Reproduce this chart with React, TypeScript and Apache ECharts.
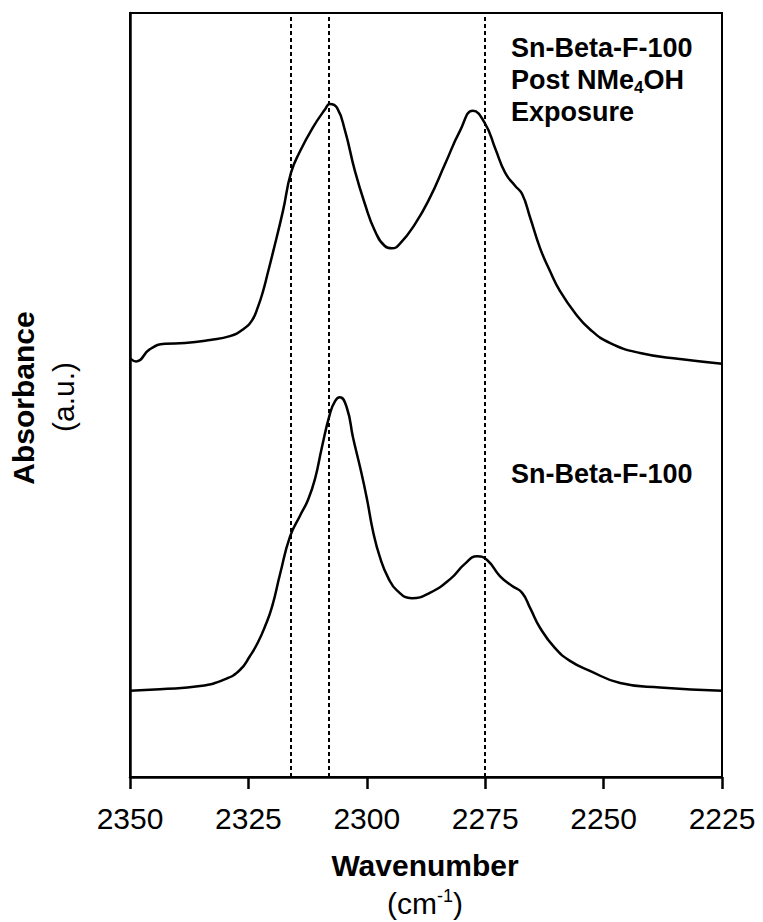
import React, { useEffect, useRef } from "react";
import * as echarts from "echarts";

// Sn-Beta-F-100 Post NMe4OH Exposure (upper trace)
const topWn = [2350.0, 2348.7, 2345.8, 2342.6, 2338.4, 2333.1, 2328.9, 2326.1, 2324.2, 2323.0, 2321.9, 2320.9, 2319.8, 2317.7, 2316.0, 2314.1, 2311.4, 2308.8, 2307.8, 2306.3, 2304.6, 2302.5, 2300.4, 2298.3, 2296.2, 2294.7, 2293.0, 2289.8, 2286.7, 2283.5, 2280.3, 2277.6, 2275.0, 2272.9, 2270.8, 2268.7, 2267.2, 2265.5, 2263.4, 2261.3, 2259.2, 2256.0, 2252.9, 2248.6, 2242.3, 2233.9, 2225.0];
const topAbs = [54.8, 54.4, 56.0, 56.7, 56.8, 57.2, 57.7, 58.6, 59.8, 61.5, 63.6, 66.0, 68.7, 74.1, 79.1, 81.9, 85.0, 87.4, 88.1, 87.6, 84.6, 79.3, 75.0, 71.5, 69.5, 69.2, 69.8, 72.4, 75.8, 80.2, 84.6, 87.2, 85.5, 82.3, 79.1, 77.4, 76.3, 73.2, 69.2, 66.2, 63.6, 60.7, 58.6, 56.8, 55.5, 54.7, 54.1];

// Sn-Beta-F-100 (lower trace)
const bottomWn = [2350.0, 2343.7, 2335.2, 2329.9, 2326.8, 2324.7, 2323.0, 2321.5, 2320.0, 2318.3, 2316.2, 2314.1, 2312.4, 2310.9, 2309.5, 2307.8, 2306.7, 2305.7, 2304.2, 2302.9, 2301.4, 2300.0, 2298.7, 2297.2, 2295.5, 2293.6, 2290.5, 2286.7, 2282.4, 2279.3, 2276.7, 2274.6, 2271.9, 2269.3, 2267.2, 2265.5, 2263.4, 2260.3, 2257.1, 2252.9, 2246.5, 2238.1, 2225.0];
const bottomAbs = [11.3, 11.5, 11.9, 12.8, 14.0, 15.8, 17.6, 19.7, 22.3, 26.6, 31.5, 34.2, 36.3, 39.1, 43.1, 47.5, 49.2, 49.7, 48.3, 44.4, 40.5, 36.5, 32.2, 28.7, 26.1, 24.4, 23.4, 24.1, 25.9, 27.9, 28.9, 28.4, 26.3, 25.0, 24.1, 22.1, 19.5, 16.9, 15.2, 13.9, 12.3, 11.7, 11.3];

// Reference (dashed) wavenumbers
const markerWn = [2316, 2308, 2275];

// Axis range / ticks
const xMin = 2225;
const xMax = 2350;
const xStep = 25;

const FONT = 'Arial, "Liberation Sans", Helvetica, sans-serif';

export default function App() {
  const ref = useRef<HTMLDivElement>(null);

  useEffect(() => {
    if (!ref.current) return;
    const chart = echarts.init(ref.current, undefined, { renderer: "svg" });

    const zip = (xs: number[], ys: number[]) => xs.map((x, i) => [x, ys[i]]);

    chart.setOption({
      animation: false,
      backgroundColor: "#fff",
      grid: {
        left: 130,
        right: 41,
        top: 13,
        bottom: 145,
        show: true,
        borderColor: "#000",
        borderWidth: 2,
        backgroundColor: "transparent",
      },
      xAxis: {
        type: "value",
        inverse: true,
        min: xMin,
        max: xMax,
        interval: xStep,
        axisLine: { show: true, lineStyle: { color: "#000", width: 2.5 } },
        axisTick: { show: true, inside: false, length: 12, lineStyle: { color: "#000", width: 2.5 } },
        axisLabel: {
          show: true,
          color: "#000",
          fontSize: 30,
          fontFamily: FONT,
          margin: 26,
          showMinLabel: true,
          showMaxLabel: true,
          formatter: (v: number) => String(v),
        },
        splitLine: { show: false },
      },
      yAxis: {
        type: "value",
        min: 0,
        max: 100,
        axisLine: { show: true, onZero: false, lineStyle: { color: "#000", width: 2.5 } },
        axisTick: { show: false },
        axisLabel: { show: false },
        splitLine: { show: false },
      },
      series: [
        {
          type: "line",
          name: "Sn-Beta-F-100 Post NMe4OH Exposure",
          data: zip(topWn, topAbs),
          smooth: 0.5,
          showSymbol: false,
          lineStyle: { color: "#000", width: 2.5 },
          markLine: {
            silent: true,
            symbol: ["none", "none"],
            label: { show: false },
            lineStyle: { color: "#000", width: 2, type: [4, 3] },
            data: markerWn.map((v) => ({ xAxis: v })),
          },
        },
        {
          type: "line",
          name: "Sn-Beta-F-100",
          data: zip(bottomWn, bottomAbs),
          smooth: 0.5,
          showSymbol: false,
          lineStyle: { color: "#000", width: 2.5 },
        },
      ],
      graphic: [
        {
          type: "text",
          x: 425,
          y: 865,
          style: {
            text: "Wavenumber",
            fontSize: 30,
            fontWeight: "bold",
            fontFamily: FONT,
            fill: "#000",
            align: "center",
            verticalAlign: "middle",
          },
        },
        {
          type: "text",
          x: 425,
          y: 903,
          style: {
            text: "{a|(cm}{s|-1}{a|)}",
            fill: "#000",
            align: "center",
            verticalAlign: "middle",
            rich: {
              a: { fontSize: 30, fontFamily: FONT, fill: "#000", lineHeight: 32 },
              s: { fontSize: 18, fontFamily: FONT, fill: "#000", lineHeight: 18, verticalAlign: "top" },
            },
          },
        },
        {
          type: "text",
          x: 23,
          y: 398,
          rotation: Math.PI / 2,
          style: {
            text: "Absorbance",
            fontSize: 30,
            fontWeight: "bold",
            fontFamily: FONT,
            fill: "#000",
            align: "center",
            verticalAlign: "middle",
          },
        },
        {
          type: "text",
          x: 63,
          y: 397,
          rotation: Math.PI / 2,
          style: {
            text: "(a.u.)",
            fontSize: 30,
            fontFamily: FONT,
            fill: "#000",
            align: "center",
            verticalAlign: "middle",
          },
        },
        {
          type: "text",
          x: 511,
          y: 32,
          style: {
            text: "{b|Sn-Beta-F-100}\n{b|Post NMe}{sub|4}{b|OH}\n{b|Exposure}",
            fill: "#000",
            align: "left",
            verticalAlign: "top",
            rich: {
              b: { fontSize: 27, fontWeight: "bold", fontFamily: FONT, fill: "#000", lineHeight: 32 },
              sub: { fontSize: 17, fontWeight: "bold", fontFamily: FONT, fill: "#000", lineHeight: 17, verticalAlign: "bottom" },
            },
          },
        },
        {
          type: "text",
          x: 511,
          y: 474,
          style: {
            text: "Sn-Beta-F-100",
            fontSize: 27,
            fontWeight: "bold",
            fontFamily: FONT,
            fill: "#000",
            align: "left",
            verticalAlign: "middle",
          },
        },
      ],
    });

    return () => chart.dispose();
  }, []);

  return (
    <div
      ref={ref}
      style={{ position: "fixed", left: 0, top: 0, width: 763, height: 922, background: "#fff" }}
    />
  );
}
